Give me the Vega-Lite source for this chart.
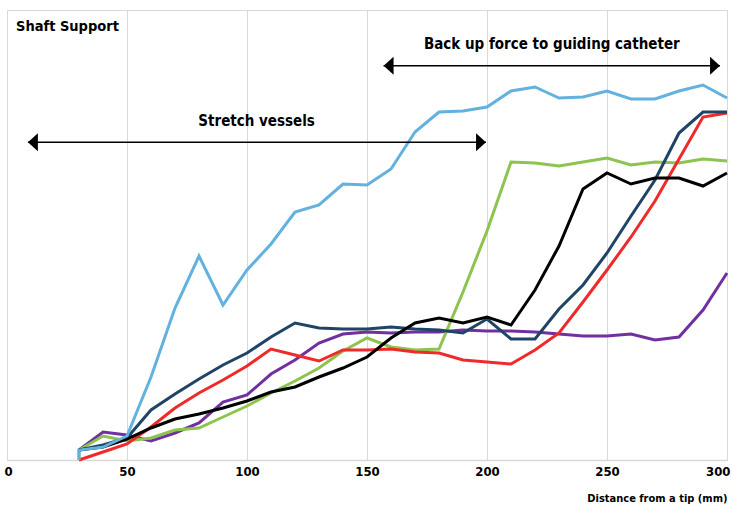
{
  "$schema": "https://vega.github.io/schema/vega-lite/v6.json",
  "width": 720,
  "height": 450,
  "autosize": {"type": "none"},
  "padding": {"left": 7, "top": 10, "right": 5, "bottom": 47},
  "background": "white",
  "config": {
    "view": {"stroke": "#d9d9d9", "strokeWidth": 1},
    "font": "DejaVu Sans Condensed, DejaVu Sans, sans-serif"
  },
  "datasets": {
    "lines": [
      {"series": "S1", "s": 0, "x": 30, "y": 10}, {"series": "S1", "s": 1, "x": 40, "y": 28}, {"series": "S1", "s": 2, "x": 50, "y": 25}, {"series": "S1", "s": 3, "x": 60, "y": 19}, {"series": "S1", "s": 4, "x": 70, "y": 27}, {"series": "S1", "s": 5, "x": 80, "y": 37}, {"series": "S1", "s": 6, "x": 90, "y": 58}, {"series": "S1", "s": 7, "x": 100, "y": 65}, {"series": "S1", "s": 8, "x": 110, "y": 86}, {"series": "S1", "s": 9, "x": 120, "y": 100}, {"series": "S1", "s": 10, "x": 130, "y": 117}, {"series": "S1", "s": 11, "x": 140, "y": 126}, {"series": "S1", "s": 12, "x": 150, "y": 128}, {"series": "S1", "s": 13, "x": 160, "y": 127}, {"series": "S1", "s": 14, "x": 170, "y": 128}, {"series": "S1", "s": 15, "x": 180, "y": 128}, {"series": "S1", "s": 16, "x": 190, "y": 130}, {"series": "S1", "s": 17, "x": 200, "y": 129}, {"series": "S1", "s": 18, "x": 210, "y": 129}, {"series": "S1", "s": 19, "x": 220, "y": 128}, {"series": "S1", "s": 20, "x": 230, "y": 126}, {"series": "S1", "s": 21, "x": 240, "y": 124}, {"series": "S1", "s": 22, "x": 250, "y": 124}, {"series": "S1", "s": 23, "x": 260, "y": 126}, {"series": "S1", "s": 24, "x": 270, "y": 120}, {"series": "S1", "s": 25, "x": 280, "y": 123}, {"series": "S1", "s": 26, "x": 290, "y": 150}, {"series": "S1", "s": 27, "x": 300, "y": 187},

      {"series": "S2", "s": -1, "x": 30, "y": 0}, {"series": "S2", "s": 0, "x": 30, "y": 10}, {"series": "S2", "s": 1, "x": 40, "y": 24}, {"series": "S2", "s": 2, "x": 50, "y": 19}, {"series": "S2", "s": 3, "x": 60, "y": 22}, {"series": "S2", "s": 4, "x": 70, "y": 30}, {"series": "S2", "s": 5, "x": 80, "y": 32}, {"series": "S2", "s": 6, "x": 90, "y": 43}, {"series": "S2", "s": 7, "x": 100, "y": 54}, {"series": "S2", "s": 8, "x": 110, "y": 67}, {"series": "S2", "s": 9, "x": 120, "y": 79}, {"series": "S2", "s": 10, "x": 130, "y": 92}, {"series": "S2", "s": 11, "x": 140, "y": 109}, {"series": "S2", "s": 12, "x": 150, "y": 122}, {"series": "S2", "s": 13, "x": 160, "y": 113}, {"series": "S2", "s": 14, "x": 170, "y": 110}, {"series": "S2", "s": 15, "x": 180, "y": 111}, {"series": "S2", "s": 16, "x": 190, "y": 168}, {"series": "S2", "s": 17, "x": 200, "y": 229}, {"series": "S2", "s": 18, "x": 210, "y": 298}, {"series": "S2", "s": 19, "x": 220, "y": 297}, {"series": "S2", "s": 20, "x": 230, "y": 294}, {"series": "S2", "s": 21, "x": 240, "y": 298}, {"series": "S2", "s": 22, "x": 250, "y": 302}, {"series": "S2", "s": 23, "x": 260, "y": 295}, {"series": "S2", "s": 24, "x": 270, "y": 298}, {"series": "S2", "s": 25, "x": 280, "y": 297}, {"series": "S2", "s": 26, "x": 290, "y": 301}, {"series": "S2", "s": 27, "x": 300, "y": 299},

      {"series": "S3", "s": 0, "x": 30, "y": 0}, {"series": "S3", "s": 1, "x": 40, "y": 8}, {"series": "S3", "s": 2, "x": 50, "y": 16}, {"series": "S3", "s": 3, "x": 60, "y": 33}, {"series": "S3", "s": 4, "x": 70, "y": 52}, {"series": "S3", "s": 5, "x": 80, "y": 67}, {"series": "S3", "s": 6, "x": 90, "y": 80}, {"series": "S3", "s": 7, "x": 100, "y": 94}, {"series": "S3", "s": 8, "x": 110, "y": 111}, {"series": "S3", "s": 9, "x": 120, "y": 105}, {"series": "S3", "s": 10, "x": 130, "y": 99}, {"series": "S3", "s": 11, "x": 140, "y": 110}, {"series": "S3", "s": 12, "x": 150, "y": 110}, {"series": "S3", "s": 13, "x": 160, "y": 111}, {"series": "S3", "s": 14, "x": 170, "y": 108}, {"series": "S3", "s": 15, "x": 180, "y": 107}, {"series": "S3", "s": 16, "x": 190, "y": 100}, {"series": "S3", "s": 17, "x": 200, "y": 98}, {"series": "S3", "s": 18, "x": 210, "y": 96}, {"series": "S3", "s": 19, "x": 220, "y": 110}, {"series": "S3", "s": 20, "x": 230, "y": 127}, {"series": "S3", "s": 21, "x": 240, "y": 158}, {"series": "S3", "s": 22, "x": 250, "y": 190}, {"series": "S3", "s": 23, "x": 260, "y": 223}, {"series": "S3", "s": 24, "x": 270, "y": 259}, {"series": "S3", "s": 25, "x": 280, "y": 301}, {"series": "S3", "s": 26, "x": 290, "y": 343}, {"series": "S3", "s": 27, "x": 300, "y": 347},

      {"series": "S4", "s": 0, "x": 30, "y": 10}, {"series": "S4", "s": 1, "x": 40, "y": 15}, {"series": "S4", "s": 2, "x": 50, "y": 22}, {"series": "S4", "s": 3, "x": 60, "y": 50}, {"series": "S4", "s": 4, "x": 70, "y": 66}, {"series": "S4", "s": 5, "x": 80, "y": 81}, {"series": "S4", "s": 6, "x": 90, "y": 95}, {"series": "S4", "s": 7, "x": 100, "y": 107}, {"series": "S4", "s": 8, "x": 110, "y": 123}, {"series": "S4", "s": 9, "x": 120, "y": 137}, {"series": "S4", "s": 10, "x": 130, "y": 132}, {"series": "S4", "s": 11, "x": 140, "y": 131}, {"series": "S4", "s": 12, "x": 150, "y": 131}, {"series": "S4", "s": 13, "x": 160, "y": 133}, {"series": "S4", "s": 14, "x": 170, "y": 131}, {"series": "S4", "s": 15, "x": 180, "y": 130}, {"series": "S4", "s": 16, "x": 190, "y": 127}, {"series": "S4", "s": 17, "x": 200, "y": 141}, {"series": "S4", "s": 18, "x": 210, "y": 121}, {"series": "S4", "s": 19, "x": 220, "y": 121}, {"series": "S4", "s": 20, "x": 230, "y": 151}, {"series": "S4", "s": 21, "x": 240, "y": 175}, {"series": "S4", "s": 22, "x": 250, "y": 207}, {"series": "S4", "s": 23, "x": 260, "y": 244}, {"series": "S4", "s": 24, "x": 270, "y": 280}, {"series": "S4", "s": 25, "x": 280, "y": 327}, {"series": "S4", "s": 26, "x": 290, "y": 348}, {"series": "S4", "s": 27, "x": 300, "y": 348},

      {"series": "S5", "s": 0, "x": 30, "y": 10}, {"series": "S5", "s": 1, "x": 40, "y": 13}, {"series": "S5", "s": 2, "x": 50, "y": 21}, {"series": "S5", "s": 3, "x": 60, "y": 32}, {"series": "S5", "s": 4, "x": 70, "y": 41}, {"series": "S5", "s": 5, "x": 80, "y": 46}, {"series": "S5", "s": 6, "x": 90, "y": 52}, {"series": "S5", "s": 7, "x": 100, "y": 59}, {"series": "S5", "s": 8, "x": 110, "y": 68}, {"series": "S5", "s": 9, "x": 120, "y": 73}, {"series": "S5", "s": 10, "x": 130, "y": 83}, {"series": "S5", "s": 11, "x": 140, "y": 92}, {"series": "S5", "s": 12, "x": 150, "y": 103}, {"series": "S5", "s": 13, "x": 160, "y": 122}, {"series": "S5", "s": 14, "x": 170, "y": 137}, {"series": "S5", "s": 15, "x": 180, "y": 142}, {"series": "S5", "s": 16, "x": 190, "y": 137}, {"series": "S5", "s": 17, "x": 200, "y": 143}, {"series": "S5", "s": 18, "x": 210, "y": 135}, {"series": "S5", "s": 19, "x": 220, "y": 170}, {"series": "S5", "s": 20, "x": 230, "y": 214}, {"series": "S5", "s": 21, "x": 240, "y": 271}, {"series": "S5", "s": 22, "x": 250, "y": 287}, {"series": "S5", "s": 23, "x": 260, "y": 276}, {"series": "S5", "s": 24, "x": 270, "y": 282}, {"series": "S5", "s": 25, "x": 280, "y": 282}, {"series": "S5", "s": 26, "x": 290, "y": 274}, {"series": "S5", "s": 27, "x": 300, "y": 287},

      {"series": "S6", "s": -1, "x": 30, "y": 0}, {"series": "S6", "s": 0, "x": 30, "y": 10}, {"series": "S6", "s": 1, "x": 40, "y": 13}, {"series": "S6", "s": 2, "x": 50, "y": 24}, {"series": "S6", "s": 3, "x": 60, "y": 83}, {"series": "S6", "s": 4, "x": 70, "y": 152}, {"series": "S6", "s": 5, "x": 80, "y": 204}, {"series": "S6", "s": 6, "x": 90, "y": 155}, {"series": "S6", "s": 7, "x": 100, "y": 190}, {"series": "S6", "s": 8, "x": 110, "y": 216}, {"series": "S6", "s": 9, "x": 120, "y": 248}, {"series": "S6", "s": 10, "x": 130, "y": 255}, {"series": "S6", "s": 11, "x": 140, "y": 276}, {"series": "S6", "s": 12, "x": 150, "y": 275}, {"series": "S6", "s": 13, "x": 160, "y": 291}, {"series": "S6", "s": 14, "x": 170, "y": 328}, {"series": "S6", "s": 15, "x": 180, "y": 348}, {"series": "S6", "s": 16, "x": 190, "y": 349}, {"series": "S6", "s": 17, "x": 200, "y": 353}, {"series": "S6", "s": 18, "x": 210, "y": 369}, {"series": "S6", "s": 19, "x": 220, "y": 373}, {"series": "S6", "s": 20, "x": 230, "y": 362}, {"series": "S6", "s": 21, "x": 240, "y": 363}, {"series": "S6", "s": 22, "x": 250, "y": 369}, {"series": "S6", "s": 23, "x": 260, "y": 361}, {"series": "S6", "s": 24, "x": 270, "y": 361}, {"series": "S6", "s": 25, "x": 280, "y": 369}, {"series": "S6", "s": 26, "x": 290, "y": 375}, {"series": "S6", "s": 27, "x": 300, "y": 362}
    ],
    "arrows": [
      {"x": 8.75, "x2": 199.6, "y": 317.7},
      {"x": 156.9, "x2": 297.1, "y": 394.3}
    ],
    "heads": [
      {"x": 10.8, "y": 317.7, "dir": "left"},
      {"x": 197.5, "y": 317.7, "dir": "right"},
      {"x": 159, "y": 394.3, "dir": "left"},
      {"x": 295, "y": 394.3, "dir": "right"}
    ],
    "notes": [
      {"x": 104, "y": 339.5, "text": "Stretch vessels"},
      {"x": 227, "y": 416, "text": "Back up force to guiding catheter"}
    ],
    "heading": [
      {"x": 3.75, "y": 433, "text": "Shaft Support"}
    ]
  },
  "layer": [
    {
      "data": {"name": "lines"},
      "mark": {"type": "line", "strokeWidth": 3, "strokeJoin": "miter", "strokeCap": "butt"},
      "encoding": {
        "x": {
          "field": "x", "type": "quantitative",
          "scale": {"domain": [0, 300], "nice": false, "zero": false},
          "axis": {
            "values": [0, 50, 100, 150, 200, 250, 300],
            "grid": true, "gridColor": "#d9d9d9", "gridWidth": 1,
            "domainColor": "#d9d9d9", "domainWidth": 1.5,
            "ticks": false,
            "labelFlush": true, "labelFlushOffset": 3,
            "labelFont": "DejaVu Sans Condensed, DejaVu Sans, sans-serif", "labelFontSize": 13, "labelFontWeight": "bold", "labelColor": "#000",
            "labelPadding": 5,
            "title": "Distance from a tip (mm)",
            "titleFont": "DejaVu Sans Condensed, DejaVu Sans, sans-serif", "titleFontSize": 11, "titleFontWeight": "bold", "titleColor": "#000",
            "titleAnchor": "end", "titlePadding": 14
          }
        },
        "y": {
          "field": "y", "type": "quantitative",
          "scale": {"domain": [0, 450], "nice": false, "zero": false},
          "axis": null
        },
        "color": {
          "field": "series", "type": "nominal",
          "scale": {"domain": ["S1", "S2", "S3", "S4", "S5", "S6"], "range": ["#7030a0", "#8dc34f", "#ee2a2a", "#1f4466", "#000000", "#63b1df"]},
          "legend": null
        },
        "order": {"field": "s", "type": "quantitative"}
      }
    },
    {
      "data": {"name": "arrows"},
      "mark": {"type": "rule", "color": "#000", "strokeWidth": 1.5},
      "encoding": {
        "x": {"field": "x", "type": "quantitative"},
        "x2": {"field": "x2"},
        "y": {"field": "y", "type": "quantitative"}
      }
    },
    {
      "data": {"name": "heads"},
      "mark": {"type": "point", "filled": true, "color": "#000", "opacity": 1, "size": 324},
      "encoding": {
        "x": {"field": "x", "type": "quantitative"},
        "y": {"field": "y", "type": "quantitative"},
        "shape": {
          "field": "dir", "type": "nominal",
          "scale": {"domain": ["left", "right"], "range": ["M-0.55,0L0.55,-1L0.55,1Z", "M0.55,0L-0.55,-1L-0.55,1Z"]},
          "legend": null
        }
      }
    },
    {
      "data": {"name": "notes"},
      "mark": {"type": "text", "font": "DejaVu Sans Condensed, DejaVu Sans, sans-serif", "fontSize": 15, "fontWeight": "bold", "color": "#000", "align": "center", "baseline": "middle"},
      "encoding": {
        "x": {"field": "x", "type": "quantitative"},
        "y": {"field": "y", "type": "quantitative"},
        "text": {"field": "text"}
      }
    },
    {
      "data": {"name": "heading"},
      "mark": {"type": "text", "font": "DejaVu Sans Condensed, DejaVu Sans, sans-serif", "fontSize": 14.5, "fontWeight": "bold", "color": "#000", "align": "left", "baseline": "middle"},
      "encoding": {
        "x": {"field": "x", "type": "quantitative"},
        "y": {"field": "y", "type": "quantitative"},
        "text": {"field": "text"}
      }
    }
  ]
}
